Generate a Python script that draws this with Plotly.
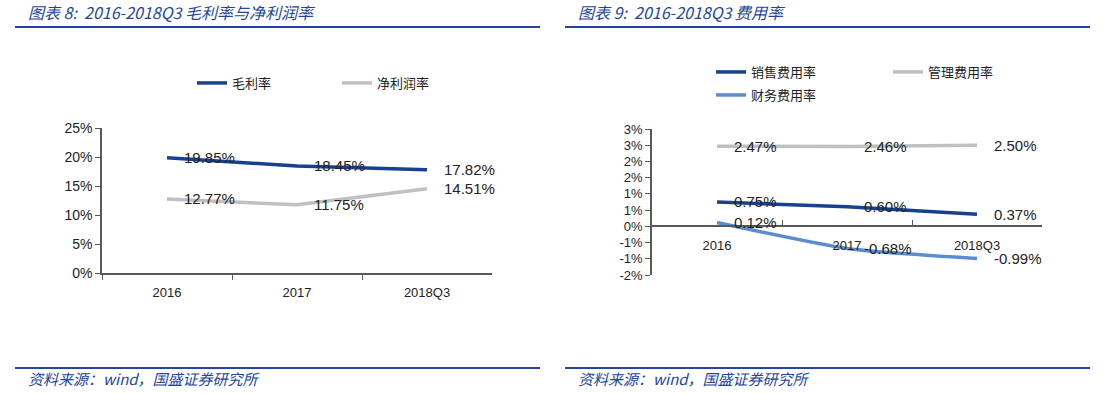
import math
import plotly.graph_objects as go

W, H = 1105, 394

# ---------------- data ----------------
years = ["2016", "2017", "2018Q3"]
gross_margin = [19.85, 18.45, 17.82]      # 毛利率
net_margin = [12.77, 11.75, 14.51]        # 净利润率
sales_exp = [0.75, 0.60, 0.37]            # 销售费用率
admin_exp = [2.47, 2.46, 2.50]            # 管理费用率
fin_exp = [0.12, -0.68, -0.99]            # 财务费用率
right_ticks = [-1.5, -1.0, -0.5, 0.0, 0.5, 1.0, 1.5, 2.0, 2.5, 3.0]

DARK = "#17408f"
GRAY = "#c0c0c0"
LIGHT = "#5b8dd0"
TITLE = "#23469a"
AXIS = "#595959"
LABEL_FONT = dict(family="Liberation Sans, Arial", size=15, color="#222222")
CJK = "Noto Sans CJK SC"


def px_x(p):
    return p / W


def px_y(p):
    return 1 - p / H


def xl_round(v):
    # Excel-style rounding half away from zero
    r = math.floor(abs(v) + 0.5)
    return int(math.copysign(r, v)) if r != 0 else 0


fig = go.Figure()

# left chart
fig.add_trace(go.Scatter(x=years, y=gross_margin, name="毛利率", mode="lines",
                         line=dict(color=DARK, width=3.5), xaxis="x", yaxis="y",
                         legend="legend"))
fig.add_trace(go.Scatter(x=years, y=net_margin, name="净利润率", mode="lines",
                         line=dict(color=GRAY, width=3.5), xaxis="x", yaxis="y",
                         legend="legend"))
# right chart
fig.add_trace(go.Scatter(x=years, y=sales_exp, name="销售费用率", mode="lines",
                         line=dict(color=DARK, width=3.5), xaxis="x2", yaxis="y2",
                         legend="legend2"))
fig.add_trace(go.Scatter(x=years, y=admin_exp, name="管理费用率", mode="lines",
                         line=dict(color=GRAY, width=3.5), xaxis="x2", yaxis="y2",
                         legend="legend2"))
fig.add_trace(go.Scatter(x=years, y=fin_exp, name="财务费用率", mode="lines",
                         line=dict(color=LIGHT, width=3.5, shape="spline", smoothing=0.6),
                         xaxis="x2", yaxis="y2", legend="legend3"))

annotations = []
for series in (gross_margin, net_margin):
    for i, yv in enumerate(series):
        annotations.append(dict(x=i, y=yv, xref="x", yref="y", text=f"{yv:.2f}%",
                                showarrow=False, xanchor="left", yanchor="middle",
                                xshift=15, font=LABEL_FONT))
for series in (sales_exp, admin_exp, fin_exp):
    for i, yv in enumerate(series):
        annotations.append(dict(x=i, y=yv, xref="x2", yref="y2", text=f"{yv:.2f}%",
                                showarrow=False, xanchor="left", yanchor="middle",
                                xshift=15, font=LABEL_FONT))

# titles and sources
for x0, t in ((26, "图表 8:  2016-2018Q3 毛利率与净利润率"), (576, "图表 9:  2016-2018Q3 费用率")):
    annotations.append(dict(x=px_x(x0), y=px_y(12), xref="paper", yref="paper", text=f"<i>{t}</i>",
                            showarrow=False, xanchor="left", yanchor="middle",
                            font=dict(family=CJK, size=16, color=TITLE)))
    annotations.append(dict(x=px_x(x0), y=px_y(378), xref="paper", yref="paper",
                            text="<i>资料来源：wind，国盛证券研究所</i>",
                            showarrow=False, xanchor="left", yanchor="middle",
                            font=dict(family=CJK, size=15, color=TITLE)))

shapes = []
for x0, x1 in ((15, 540), (565, 1090)):
    for yy in (27, 368):
        shapes.append(dict(type="line", xref="paper", yref="paper",
                           x0=px_x(x0), x1=px_x(x1), y0=px_y(yy), y1=px_y(yy),
                           line=dict(color=TITLE, width=2)))

ydom1 = [px_y(273), px_y(128)]
ydom2 = [px_y(275), px_y(129)]
yr2 = [right_ticks[0], right_ticks[-1]]
pos0 = ydom2[0] + (0 - yr2[0]) / (yr2[1] - yr2[0]) * (ydom2[1] - ydom2[0])

tickfont = dict(family="Liberation Sans, Arial", size=13, color="#222222")
legfont = dict(family=CJK, size=13, color="#222222")

fig.update_layout(
    width=W, height=H,
    margin=dict(l=0, r=0, t=0, b=0, autoexpand=False),
    paper_bgcolor="white", plot_bgcolor="white",
    showlegend=True,
    annotations=annotations,
    shapes=shapes,
    xaxis=dict(domain=[px_x(102), px_x(492)], type="category", range=[-0.5, 2.5],
               showline=True, linecolor=AXIS, linewidth=1.5, ticks="outside",
               tickson="boundaries", ticklen=5, tickcolor=AXIS, showgrid=False,
               tickfont=tickfont, ticklabelstandoff=7, anchor="y", automargin=False),
    yaxis=dict(domain=ydom1, range=[0, 25], dtick=5, ticksuffix="%", showline=True,
               linecolor=AXIS, linewidth=1.5, ticks="outside", ticklen=5, tickcolor=AXIS,
               showgrid=False, zeroline=False, tickfont=dict(tickfont, size=14),
               anchor="x", automargin=False),
    xaxis2=dict(domain=[px_x(652), px_x(1042)], type="category", range=[-0.5, 2.5],
                anchor="free", position=pos0,
                showline=True, linecolor=AXIS, linewidth=1.5, ticks="inside",
                tickson="boundaries", ticklen=6, tickcolor=AXIS, showgrid=False,
                tickfont=tickfont, ticklabelstandoff=7, automargin=False),
    yaxis2=dict(domain=ydom2, range=yr2, tickvals=right_ticks,
                ticktext=[f"{xl_round(v)}%" for v in right_ticks],
                showline=True, linecolor=AXIS, linewidth=1.5, ticks="outside", ticklen=5,
                tickcolor=AXIS, showgrid=False, zeroline=False,
                tickfont=tickfont, anchor="x2", automargin=False),
    legend=dict(orientation="h", x=px_x(192), y=px_y(83), xanchor="left", yanchor="middle",
                entrywidth=100, entrywidthmode="pixels",
                font=legfont, bgcolor="rgba(0,0,0,0)"),
    legend2=dict(orientation="h", x=px_x(711), y=px_y(72), xanchor="left", yanchor="middle",
                 entrywidth=132, entrywidthmode="pixels",
                 font=legfont, bgcolor="rgba(0,0,0,0)"),
    legend3=dict(orientation="h", x=px_x(711), y=px_y(95), xanchor="left", yanchor="middle",
                 font=legfont, bgcolor="rgba(0,0,0,0)"),
)

fig.write_html(
    "out.html",
    config={"displayModeBar": False},
    post_script="document.body.style.margin='0';document.body.style.overflow='hidden';"
                "document.documentElement.style.overflow='hidden';",
)
